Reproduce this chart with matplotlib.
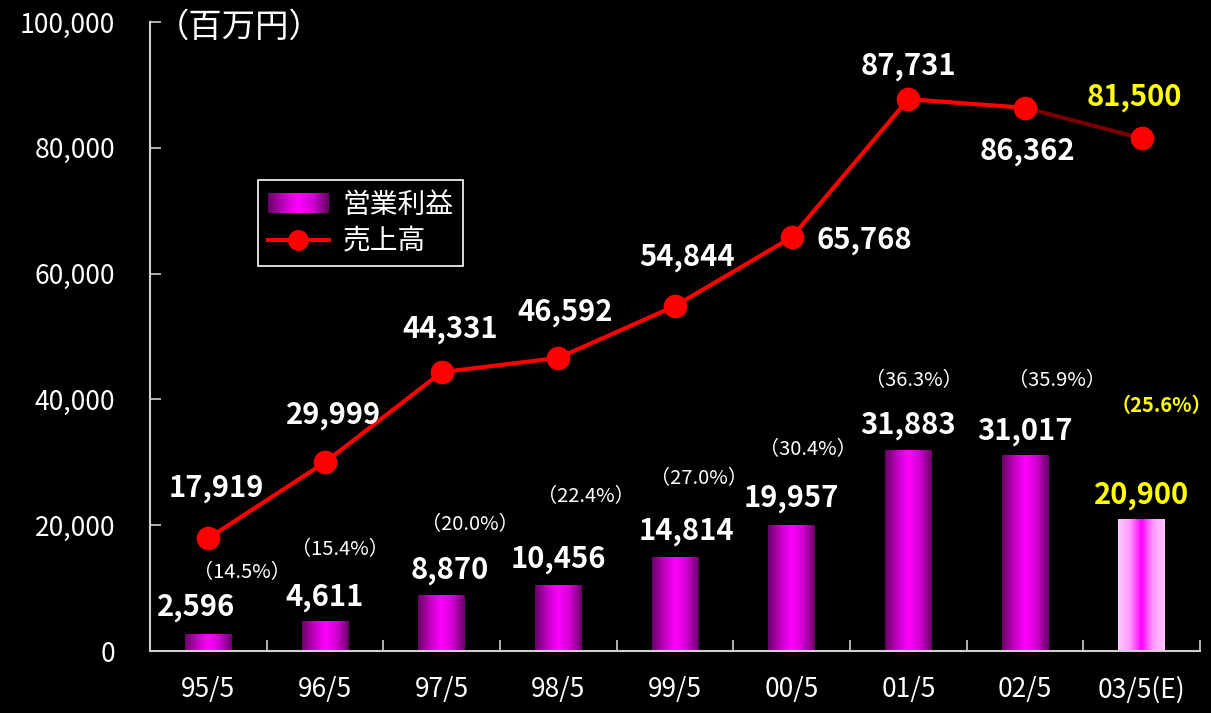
import numpy as np
import matplotlib
matplotlib.use('Agg')
import matplotlib.pyplot as plt
from matplotlib.colors import LinearSegmentedColormap
from matplotlib.legend_handler import HandlerBase
from matplotlib.patches import Rectangle
from matplotlib.lines import Line2D

plt.rcParams['font.family'] = ['Noto Sans CJK JP', 'DejaVu Sans']

# Data (millions of yen)
periods = ['95/5', '96/5', '97/5', '98/5', '99/5', '00/5', '01/5', '02/5', '03/5(E)']
sales = [17919, 29999, 44331, 46592, 54844, 65768, 87731, 86362, 81500]
op_profit = [2596, 4611, 8870, 10456, 14814, 19957, 31883, 31017, 20900]
margin = ['14.5', '15.4', '20.0', '22.4', '27.0', '30.4', '36.3', '35.9', '25.6']

# label offsets (points) - sales, profit, margin
sales_off = [(6, 36), (6, 34), (6, 31), (5, 33), (9, 35), (52, -2), (0, 24), (2, -31), (-5, 30)]
profit_off = [(-9, 20), (0, 18), (6, 18), (0, 19), (8, 19), (0, 20), (0, 18), (0, 18), (0, 18)]
margin_off = [(24, 45), (11, 52), (20, 51), (20, 64), (17, 57), (12, 55), (4, 50), (23, 54), (14, 82)]

bg = 'black'
fg = 'white'
fig = plt.figure(figsize=(12.11, 7.13), dpi=100, facecolor=bg)
ax = fig.add_axes([150 / 1211, 1 - 651 / 713, 1050 / 1211, 629 / 713], facecolor=bg)

x = np.arange(len(periods))
w = 0.4

grad = LinearSegmentedColormap.from_list('g', ['#6a006a', '#c000c0', '#ff00ff', '#d000d0', '#6a006a'])
grad_e = LinearSegmentedColormap.from_list('ge', ['#ffc8ff', '#ff99ff', '#ff00ff', '#ff99ff', '#ffc8ff'])
strip = np.linspace(0, 1, 64).reshape(1, -1)

bars = ax.bar(x, op_profit, width=w, color='none', zorder=2)
for i, b in enumerate(bars):
    cm = grad_e if i == len(bars) - 1 else grad
    ax.imshow(strip, cmap=cm, aspect='auto', zorder=2,
              extent=(b.get_x(), b.get_x() + b.get_width(), 0, b.get_height()))

# sales line (last segment is forecast)
ax.plot(x[-2:], sales[-2:], color='#7a0000', lw=3, zorder=3)
ax.plot(x[:-1], sales[:-1], color='#ff0000', lw=3, zorder=3)
ax.plot(x, sales, 'o', color='#ff0000', ms=16, zorder=4)

for i in range(len(x)):
    last = i == len(x) - 1
    col = '#ffff00' if last else fg
    ax.annotate(f'{sales[i]:,}', (x[i], sales[i]), xytext=sales_off[i], textcoords='offset points',
                ha='center', va='center', fontsize=21, fontweight='bold', color=col)
    ax.annotate(f'{op_profit[i]:,}', (x[i], op_profit[i]), xytext=profit_off[i], textcoords='offset points',
                ha='center', va='center', fontsize=21, fontweight='bold', color=col)
    ax.annotate(f'（{margin[i]}%）', (x[i], op_profit[i]), xytext=margin_off[i], textcoords='offset points',
                ha='center', va='center', fontsize=14.5, color=col,
                fontweight='bold' if last else 'normal')

ax.set_xlim(-0.5, len(x) - 0.5)
ax.set_ylim(0, 100000)
ax.set_yticks(np.arange(0, 100001, 20000))
ax.set_yticklabels([f'{v:,}' for v in range(0, 100001, 20000)], fontsize=19, color=fg)
ax.set_xticks(x)
ax.set_xticklabels(periods, fontsize=19, color=fg)
ax.set_xticks(np.arange(0.5, len(x) - 0.4, 1), minor=True)
ax.tick_params(axis='x', which='major', length=0, pad=18)
ax.tick_params(axis='x', which='minor', direction='in', length=8, color='#d0d0d0', width=1.2)
ax.tick_params(axis='y', direction='in', length=8, color='#d0d0d0', width=1.2, pad=25)
for s in ['top', 'right']:
    ax.spines[s].set_visible(False)
for s in ['left', 'bottom']:
    ax.spines[s].set_color('#d0d0d0')
    ax.spines[s].set_linewidth(1.5)

ax.text(0.006, 0.992, '（百万円）', transform=ax.transAxes, fontsize=24, color=fg, va='center', ha='left')


class GradHandler(HandlerBase):
    def create_artists(self, legend, orig, xd, yd, width, height, fontsize, trans):
        arts = []
        n = 24
        for k in range(n):
            r = Rectangle((xd + width * k / n, yd), width / n + 0.3, height,
                          facecolor=grad(k / (n - 1)), edgecolor='none', transform=trans)
            arts.append(r)
        return arts


bar_handle = Rectangle((0, 0), 1, 1)
line_handle = Line2D([], [], color='#ff0000', lw=3, marker='o', ms=14)
leg = ax.legend([bar_handle, line_handle], ['営業利益', '売上高'],
                handler_map={Rectangle: GradHandler()},
                loc='upper left', bbox_to_anchor=(108 / 1050, 1 - 158 / 629),
                fontsize=20, facecolor=bg, edgecolor=fg, labelcolor=fg,
                fancybox=False, framealpha=1, handlelength=2.2, borderpad=0.35,
                labelspacing=0.25, handletextpad=0.5, borderaxespad=0)
leg.get_frame().set_linewidth(1.2)

fig.savefig('out.png', dpi=100, facecolor=bg)
